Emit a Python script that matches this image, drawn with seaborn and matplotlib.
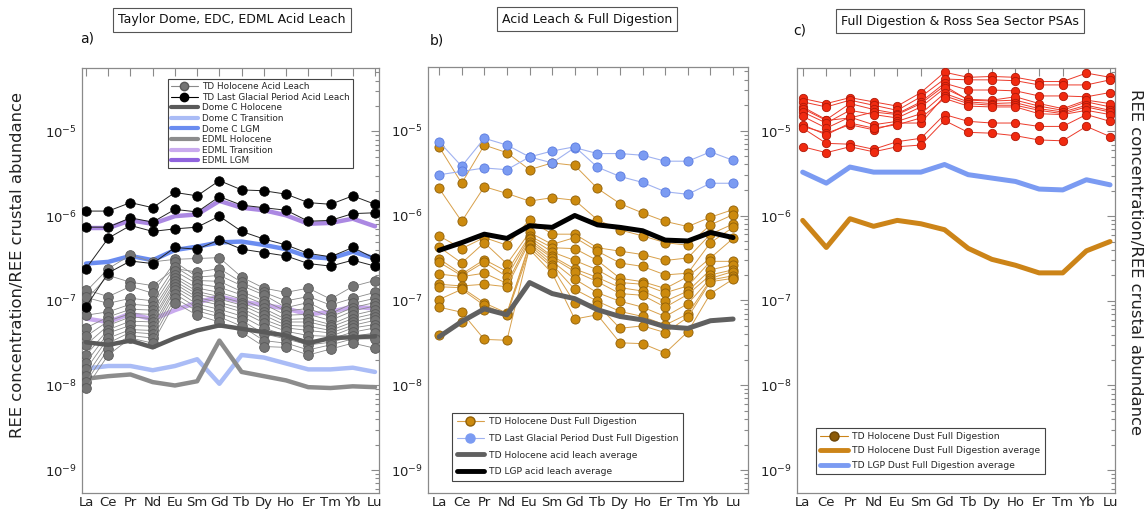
import numpy as np
import pandas as pd
import matplotlib
matplotlib.use("Agg")
import matplotlib.pyplot as plt
import seaborn as sns
from matplotlib.lines import Line2D
from matplotlib.ticker import FixedLocator, NullFormatter, LogFormatterSciNotation

# ---------------- data (log10 of REE concentration / crustal abundance) -------------
elements = ["La", "Ce", "Pr", "Nd", "Eu", "Sm", "Gd", "Tb", "Dy", "Ho", "Er", "Tm", "Yb", "Lu"]

# Panel a
td_hol_leach = [
    [-6.89, -6.62, -6.46, -6.54, -6.51, -6.50, -6.49, -6.72, -6.85, -6.90, -6.85, -6.98, -6.83, -6.76],
    [-6.99, -6.70, -6.78, -6.82, -6.62, -6.66, -6.62, -6.78, -6.90, -7.00, -6.95, -7.05, -6.97, -6.90],
    [-6.87, -6.95, -6.83, -6.91, -6.54, -6.72, -6.70, -6.82, -6.93, -7.08, -7.02, -7.15, -7.03, -6.97],
    [-6.96, -7.03, -6.97, -7.00, -6.60, -6.76, -6.77, -6.89, -7.00, -7.12, -7.09, -7.19, -7.08, -7.02],
    [-7.17, -7.13, -7.04, -7.06, -6.65, -6.80, -6.84, -6.93, -7.04, -7.17, -7.16, -7.23, -7.12, -7.06],
    [-7.32, -7.19, -7.10, -7.11, -6.70, -6.85, -6.90, -6.98, -7.09, -7.22, -7.21, -7.28, -7.17, -7.11],
    [-7.42, -7.24, -7.15, -7.16, -6.73, -6.89, -6.95, -7.02, -7.13, -7.25, -7.25, -7.31, -7.21, -7.15],
    [-7.52, -7.29, -7.19, -7.21, -6.77, -6.92, -6.98, -7.05, -7.17, -7.29, -7.30, -7.35, -7.25, -7.19],
    [-7.64, -7.34, -7.24, -7.25, -6.80, -6.96, -7.02, -7.09, -7.22, -7.32, -7.35, -7.38, -7.29, -7.23],
    [-7.73, -7.38, -7.29, -7.30, -6.84, -6.99, -7.05, -7.13, -7.26, -7.36, -7.41, -7.42, -7.32, -7.28],
    [-7.81, -7.44, -7.34, -7.35, -6.87, -7.04, -7.10, -7.18, -7.32, -7.41, -7.47, -7.45, -7.37, -7.32],
    [-7.89, -7.50, -7.37, -7.39, -6.92, -7.08, -7.15, -7.23, -7.39, -7.45, -7.52, -7.49, -7.42, -7.38],
    [-7.96, -7.57, -7.41, -7.44, -6.97, -7.12, -7.19, -7.30, -7.47, -7.50, -7.58, -7.52, -7.45, -7.45],
    [-8.03, -7.64, -7.44, -7.50, -7.02, -7.17, -7.25, -7.37, -7.54, -7.55, -7.64, -7.57, -7.50, -7.56],
]
td_lgp_leach = [
    [-5.94, -5.94, -5.84, -5.90, -5.72, -5.76, -5.58, -5.69, -5.70, -5.74, -5.84, -5.86, -5.76, -5.86],
    [-6.13, -6.13, -6.02, -6.07, -5.92, -5.95, -5.77, -5.87, -5.90, -5.93, -6.06, -6.05, -5.97, -5.96],
    [-6.62, -6.26, -6.11, -6.18, -6.15, -6.13, -6.00, -6.18, -6.27, -6.34, -6.44, -6.48, -6.37, -6.50],
    [-7.07, -6.67, -6.53, -6.56, -6.37, -6.39, -6.28, -6.39, -6.43, -6.47, -6.56, -6.59, -6.52, -6.59],
]
domec_holocene = [-7.49, -7.52, -7.47, -7.55, -7.44, -7.35, -7.29, -7.33, -7.37, -7.41, -7.50, -7.44, -7.43, -7.42]
domec_transition = [-7.80, -7.77, -7.77, -7.82, -7.77, -7.69, -7.98, -7.64, -7.67, -7.74, -7.81, -7.81, -7.79, -7.84]
domec_lgm = [-6.56, -6.54, -6.47, -6.52, -6.40, -6.36, -6.31, -6.30, -6.34, -6.39, -6.48, -6.50, -6.42, -6.50]
edml_holocene = [-7.92, -7.89, -7.87, -7.96, -8.00, -7.95, -7.47, -7.84, -7.89, -7.94, -8.02, -8.03, -8.01, -8.02]
edml_transition = [-7.21, -7.25, -7.15, -7.22, -7.11, -7.02, -6.95, -7.01, -7.05, -7.09, -7.16, -7.13, -7.07, -7.09]
edml_lgm = [-6.14, -6.14, -6.05, -6.09, -6.00, -5.98, -5.82, -5.90, -5.93, -5.99, -6.09, -6.08, -6.03, -6.12]

# Panel b
td_hol_full = [
    [-5.19, -5.62, -5.17, -5.26, -5.46, -5.38, -5.41, -5.68, -5.86, -5.97, -6.07, -6.13, -6.02, -5.93],
    [-5.68, -6.07, -5.66, -5.74, -5.83, -5.79, -5.82, -6.05, -6.17, -6.24, -6.32, -6.35, -6.11, -5.99],
    [-6.24, -6.39, -6.26, -6.35, -6.05, -6.22, -6.22, -6.38, -6.42, -6.46, -6.53, -6.50, -6.22, -6.10],
    [-6.37, -6.56, -6.32, -6.57, -6.20, -6.34, -6.26, -6.42, -6.56, -6.60, -6.70, -6.68, -6.32, -6.14],
    [-6.51, -6.69, -6.52, -6.66, -6.24, -6.38, -6.39, -6.53, -6.74, -6.78, -6.86, -6.72, -6.50, -6.27],
    [-6.55, -6.71, -6.55, -6.72, -6.26, -6.43, -6.53, -6.64, -6.79, -6.81, -6.91, -6.83, -6.54, -6.54],
    [-6.69, -6.72, -6.68, -6.80, -6.28, -6.48, -6.63, -6.73, -6.85, -6.89, -7.01, -6.89, -6.64, -6.58],
    [-6.81, -6.83, -6.81, -6.84, -6.31, -6.50, -6.66, -6.78, -6.92, -6.94, -7.08, -6.93, -6.70, -6.64],
    [-6.84, -6.85, -7.03, -7.15, -6.33, -6.54, -6.75, -6.91, -7.01, -7.08, -7.19, -7.04, -6.74, -6.66],
    [-6.99, -6.87, -7.06, -7.16, -6.35, -6.58, -6.87, -7.01, -7.13, -7.19, -7.29, -7.16, -6.76, -6.71],
    [-7.08, -7.14, -7.46, -7.47, -6.38, -6.61, -7.03, -7.05, -7.33, -7.30, -7.38, -7.20, -6.78, -6.74],
    [-7.41, -7.25, -7.11, -7.17, -6.40, -6.68, -7.22, -7.17, -7.50, -7.51, -7.62, -7.37, -6.92, -6.75],
]
td_lgp_full = [
    [-5.13, -5.42, -5.09, -5.17, -5.31, -5.38, -5.20, -5.27, -5.27, -5.29, -5.36, -5.36, -5.25, -5.35],
    [-5.52, -5.48, -5.44, -5.46, -5.31, -5.24, -5.19, -5.43, -5.54, -5.61, -5.72, -5.75, -5.62, -5.62],
]
td_hol_leach_avg = [-7.43, -7.25, -7.10, -7.17, -6.79, -6.92, -6.98, -7.11, -7.19, -7.23, -7.31, -7.33, -7.24, -7.22]
td_lgp_leach_avg = [-6.41, -6.32, -6.22, -6.27, -6.12, -6.14, -6.00, -6.11, -6.14, -6.18, -6.29, -6.30, -6.20, -6.26]

# Panel c
ross_sea_psa = [
    [-4.61, -4.67, -4.60, -4.65, -4.70, -4.54, -4.30, -4.36, -4.35, -4.36, -4.41, -4.41, -4.31, -4.36],
    [-4.65, -4.71, -4.63, -4.69, -4.75, -4.59, -4.38, -4.39, -4.39, -4.40, -4.45, -4.45, -4.45, -4.39],
    [-4.71, -4.86, -4.67, -4.74, -4.79, -4.65, -4.43, -4.51, -4.51, -4.52, -4.58, -4.58, -4.59, -4.54],
    [-4.73, -4.87, -4.84, -4.77, -4.80, -4.67, -4.46, -4.63, -4.64, -4.63, -4.70, -4.75, -4.65, -4.71],
    [-4.77, -4.90, -4.75, -4.80, -4.84, -4.71, -4.49, -4.62, -4.63, -4.59, -4.67, -4.73, -4.63, -4.67],
    [-4.82, -4.96, -4.83, -4.92, -4.88, -4.79, -4.55, -4.65, -4.67, -4.66, -4.73, -4.77, -4.69, -4.75],
    [-4.94, -5.02, -4.92, -4.98, -4.90, -4.90, -4.58, -4.67, -4.69, -4.69, -4.75, -4.79, -4.71, -4.77],
    [-4.92, -5.04, -4.90, -4.96, -4.92, -4.84, -4.61, -4.70, -4.71, -4.71, -4.79, -4.80, -4.75, -4.80],
    [-4.96, -5.14, -5.15, -5.21, -5.12, -5.08, -4.80, -4.88, -4.90, -4.90, -4.94, -4.94, -4.80, -4.88],
    [-5.18, -5.25, -5.18, -5.24, -5.18, -5.16, -4.87, -5.01, -5.02, -5.05, -5.10, -5.11, -4.94, -5.06],
]
td_hol_full_avg = [-6.05, -6.37, -6.03, -6.12, -6.05, -6.09, -6.16, -6.38, -6.51, -6.58, -6.67, -6.67, -6.41, -6.30]
td_lgp_full_avg = [-5.48, -5.61, -5.42, -5.48, -5.48, -5.48, -5.39, -5.51, -5.55, -5.59, -5.68, -5.69, -5.57, -5.63]

# axis range (log10 bounds) and decade ticks
y_lo_exp, y_hi_exp = -9.27, -4.25
major_exps = [-9, -8, -7, -6, -5]

# ---------------- helpers ----------------
idx = np.arange(len(elements))


def long_df(rows):
    recs = []
    for k, r in enumerate(rows):
        for i, v in enumerate(r):
            recs.append((k, i, 10.0 ** v))
    return pd.DataFrame(recs, columns=["sample", "idx", "ratio"])


def samples(ax, rows, lc, fc, ec, ms, lw=0.7, z=3):
    sns.lineplot(data=long_df(rows), x="idx", y="ratio", units="sample", estimator=None,
                 sort=False, color=lc, lw=lw, marker="o", markersize=ms,
                 markerfacecolor=fc, markeredgecolor=ec, markeredgewidth=0.6,
                 legend=False, ax=ax, zorder=z)


def thick(ax, vals, color, lw=3.2, z=2.5):
    sns.lineplot(x=idx, y=10.0 ** np.asarray(vals), color=color, lw=lw, ax=ax,
                 legend=False, zorder=z)


sns.set_theme(style="white")
plt.rcParams["font.family"] = ["DejaVu Sans"]
plt.rcParams["mathtext.fontset"] = "dejavusans"

fig = plt.figure(figsize=(11.48, 5.12), dpi=100)
W, H = 1148.0, 512.0


def make_ax(x0, x1, y0, y1):
    return fig.add_axes([x0 / W, 1 - y1 / H, (x1 - x0) / W, (y1 - y0) / H])


ax_a = make_ax(82, 379, 68, 493)
ax_b = make_ax(428, 748, 67, 493)
ax_c = make_ax(797, 1115, 68, 493)

# colours
c_hol_line, c_hol_face, c_hol_edge = "#8a8a8a", "#747474", "#595959"
c_dc_hol, c_dc_tr, c_dc_lgm = "#5a5a5a", "#aabcf6", "#6a8cf0"
c_ed_hol, c_ed_tr, c_ed_lgm = "#8c8c8c", "#c9aaee", "#ab88e2"
c_or_line, c_or_face, c_or_edge = "#d8a04a", "#cc8a0e", "#8f5f08"
c_bl_line, c_bl_face, c_bl_edge = "#a0b2f0", "#7b9bf2", "#5a7be0"
c_red_line, c_red_face, c_red_edge = "#ec3a2a", "#f02a10", "#b01808"

# ---------------- panel a ----------------
thick(ax_a, edml_transition, c_ed_tr)
thick(ax_a, domec_transition, c_dc_tr)
thick(ax_a, edml_holocene, c_ed_hol)
thick(ax_a, edml_lgm, c_ed_lgm)
thick(ax_a, domec_lgm, c_dc_lgm)
samples(ax_a, td_hol_leach, c_hol_line, c_hol_face, c_hol_edge, 7.0, lw=0.6, z=3)
thick(ax_a, domec_holocene, c_dc_hol, z=3.5)
samples(ax_a, td_lgp_leach, "#222222", "black", "black", 6.8, lw=0.7, z=4)

# ---------------- panel b ----------------
samples(ax_b, td_hol_full, c_or_line, c_or_face, c_or_edge, 6.6, lw=0.7, z=3)
samples(ax_b, td_lgp_full, c_bl_line, c_bl_face, c_bl_edge, 6.6, lw=0.8, z=3.2)
thick(ax_b, td_hol_leach_avg, "#606060", lw=3.6, z=4)
thick(ax_b, td_lgp_leach_avg, "black", lw=3.6, z=4)

# ---------------- panel c ----------------
samples(ax_c, ross_sea_psa, c_red_line, c_red_face, c_red_edge, 6.0, lw=0.7, z=3)
thick(ax_c, td_lgp_full_avg, "#7b9bf2", lw=3.6, z=4)
thick(ax_c, td_hol_full_avg, "#cc8418", lw=3.6, z=4)

# ---------------- axes styling ----------------
major_vals = [10.0 ** e for e in major_exps]
minor_vals = [m * 10.0 ** e for e in range(-10, -3) for m in range(2, 10)
              if y_lo_exp <= np.log10(m * 10.0 ** e) <= y_hi_exp]

xlims = {ax_a: (-0.18, 13.18), ax_b: (-0.49, 13.66), ax_c: (-0.24, 13.21)}
for ax in (ax_a, ax_b, ax_c):
    ax.set_yscale("log")
    ax.set_ylim(10 ** y_lo_exp, 10 ** y_hi_exp)
    ax.set_xlim(*xlims[ax])
    ax.set_xticks(idx)
    ax.set_xticklabels(elements)
    ax.yaxis.set_major_locator(FixedLocator(major_vals))
    ax.yaxis.set_major_formatter(LogFormatterSciNotation())
    ax.yaxis.set_minor_locator(FixedLocator(minor_vals))
    ax.yaxis.set_minor_formatter(NullFormatter())
    ax.set_xlabel("")
    ax.set_ylabel("")
    ax.tick_params(axis="both", which="both", direction="in", top=True, right=True,
                   color="#8a8a8a", width=0.8, labelsize=9.5, labelcolor="#222222")
    ax.tick_params(axis="both", which="major", length=6)
    ax.tick_params(axis="y", which="minor", length=3)
    ax.tick_params(axis="x", which="major", pad=2.5)
    for s in ax.spines.values():
        s.set_color("#8a8a8a")
        s.set_linewidth(0.9)
    ax.grid(False)

# ---------------- legends ----------------
leg_kw = dict(frameon=True, fancybox=False, edgecolor="#444444", framealpha=1,
              borderaxespad=0, handletextpad=0.5)

h_a = [
    Line2D([], [], color=c_hol_line, lw=0.8, marker="o", ms=6, mfc=c_hol_face, mec=c_hol_edge),
    Line2D([], [], color="black", lw=0.8, marker="o", ms=6, mfc="black", mec="black"),
    Line2D([], [], color=c_dc_hol, lw=3),
    Line2D([], [], color=c_dc_tr, lw=3),
    Line2D([], [], color=c_dc_lgm, lw=3),
    Line2D([], [], color=c_ed_hol, lw=3),
    Line2D([], [], color=c_ed_tr, lw=3),
    Line2D([], [], color="#8f63dd", lw=3),
]
l_a = ["TD Holocene Acid Leach", "TD Last Glacial Period Acid Leach", "Dome C Holocene",
       "Dome C Transition", "Dome C LGM", "EDML Holocene", "EDML Transition", "EDML LGM"]
leg = ax_a.legend(h_a, l_a, loc="upper right", bbox_to_anchor=(0.912, 0.974), fontsize=6.4,
                  labelspacing=0.18, borderpad=0.35, handlelength=3.0, **leg_kw)
leg.get_frame().set_linewidth(0.8)
leg.set_zorder(10)

h_b = [
    Line2D([], [], color=c_or_line, lw=0.8, marker="o", ms=6.5, mfc=c_or_face, mec=c_or_edge),
    Line2D([], [], color=c_bl_line, lw=0.8, marker="o", ms=6.5, mfc=c_bl_face, mec=c_bl_face),
    Line2D([], [], color="#606060", lw=3.5),
    Line2D([], [], color="black", lw=3.5),
]
l_b = ["TD Holocene Dust Full Digestion", "TD Last Glacial Period Dust Full Digestion",
       "TD Holocene acid leach average", "TD LGP acid leach average"]
leg = ax_b.legend(h_b, l_b, loc="lower left", bbox_to_anchor=(0.075, 0.028), fontsize=6.6,
                  labelspacing=0.85, borderpad=0.5, handlelength=3.0, **leg_kw)
leg.get_frame().set_linewidth(0.8)

h_c = [
    Line2D([], [], color="#cc8418", lw=0.8, marker="o", ms=6.5, mfc="#8b5a08", mec="#6b4406"),
    Line2D([], [], color="#cc8418", lw=3.5),
    Line2D([], [], color="#7b9bf2", lw=3.5),
]
l_c = ["TD Holocene Dust Full Digestion", "TD Holocene Dust Full Digestion average",
       "TD LGP Dust Full Digestion average"]
leg = ax_c.legend(h_c, l_c, loc="lower left", bbox_to_anchor=(0.06, 0.045), fontsize=6.6,
                  labelspacing=0.6, borderpad=0.45, handlelength=3.0, **leg_kw)
leg.get_frame().set_linewidth(0.8)

# ---------------- titles and labels ----------------
box = dict(boxstyle="square,pad=0.42", fc="white", ec="#555555", lw=0.8)
fig.text(232 / W, 1 - 20 / H, "Taylor Dome, EDC, EDML Acid Leach", ha="center", va="center",
         fontsize=9, color="#111111", bbox=box)
fig.text(587 / W, 1 - 19 / H, "Acid Leach & Full Digestion", ha="center", va="center",
         fontsize=9, color="#111111", bbox=box)
fig.text(960 / W, 1 - 21 / H, "Full Digestion & Ross Sea Sector PSAs", ha="center", va="center",
         fontsize=9, color="#111111", bbox=box)
fig.text(80 / W, 1 - 38 / H, "a)", ha="left", va="center", fontsize=10, color="#111111")
fig.text(430 / W, 1 - 40 / H, "b)", ha="left", va="center", fontsize=10, color="#111111")
fig.text(793 / W, 1 - 30 / H, "c)", ha="left", va="center", fontsize=10, color="#111111")

ylabel = "REE concentration/REE crustal abundance"
fig.text(18 / W, 1 - 265 / H, ylabel, rotation=90, ha="center", va="center", fontsize=11.8,
         color="#222222")
fig.text(1135 / W, 1 - 262 / H, ylabel, rotation=270, ha="center", va="center", fontsize=11.8,
         color="#222222")

fig.savefig("out.png", dpi=100, facecolor="white")
